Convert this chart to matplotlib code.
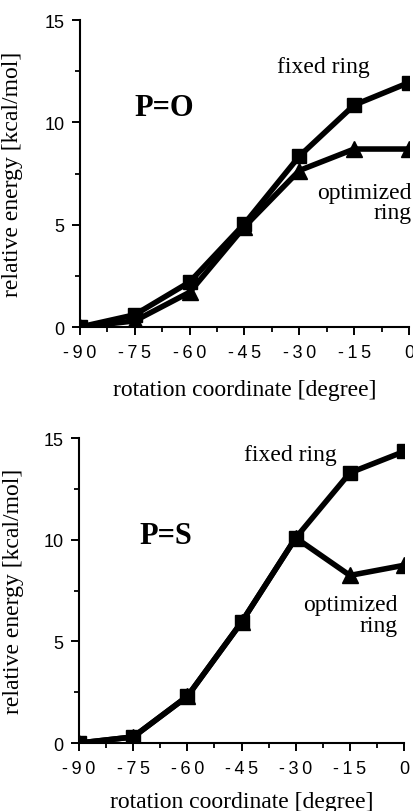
import matplotlib
matplotlib.use("Agg")
import matplotlib.pyplot as plt
from matplotlib.ticker import MultipleLocator, FixedLocator, FixedFormatter

# Data
angles = [-90, -75, -60, -45, -30, -15, 0]
po_fixed = [0.0, 0.6, 2.2, 5.05, 8.35, 10.85, 11.95]
po_opt = [0.0, 0.3, 1.7, 4.9, 7.65, 8.7, 8.7]
ps_fixed = [0.0, 0.3, 2.3, 5.95, 10.1, 13.3, 14.35]
ps_opt = [0.0, 0.3, 2.3, 5.95, 10.1, 8.25, 8.75]
xticks = [-90, -75, -60, -45, -30, -15, 0]
xticklabels = ["-90", "-75", "-60", "-45", "-30", "-15", "0"]
yticks = [0, 5, 10, 15]

serif = ["Liberation Serif", "DejaVu Serif"]
sans = ["Liberation Sans", "DejaVu Sans"]

fig = plt.figure(figsize=(4.14, 8.12), dpi=100)
ax1 = fig.add_axes([0.193, 0.596, 0.795, 0.378])
ax2 = fig.add_axes([0.191, 0.0837, 0.785, 0.3753])


def spaced(s):
    return "\u2009".join(s)


def style(ax, xlab_y, ylab_x):
    ax.set_xlim(-90, 0)
    ax.set_ylim(0, 15)
    for s in ("top", "right"):
        ax.spines[s].set_visible(False)
    for s in ("left", "bottom"):
        ax.spines[s].set_linewidth(1.5)
    ax.xaxis.set_major_locator(FixedLocator(xticks))
    ax.xaxis.set_major_formatter(FixedFormatter([spaced(t) for t in xticklabels]))
    ax.xaxis.set_minor_locator(MultipleLocator(7.5))
    ax.yaxis.set_major_locator(FixedLocator(yticks))
    ax.yaxis.set_minor_locator(MultipleLocator(2.5))
    ax.tick_params(which="major", length=6, width=1.4, direction="out", labelsize=13)
    ax.tick_params(axis="x", which="major", pad=6.5)
    ax.tick_params(axis="y", which="major", pad=5)
    ax.tick_params(which="minor", length=3.5, width=1.3, direction="out")
    for lab in ax.get_xticklabels() + ax.get_yticklabels():
        lab.set_fontfamily(sans)
    ax.set_ylabel("relative energy [kcal/mol]", fontfamily=serif, fontsize=17)
    ax.yaxis.set_label_coords(ylab_x, 0.5)
    ax.set_xlabel("rotation coordinate [degree]", fontfamily=serif, fontsize=17)
    ax.xaxis.set_label_coords(0.5, xlab_y)


for ax, fixed, opt, xy, yx in ((ax1, po_fixed, po_opt, -0.169, -0.172),
                               (ax2, ps_fixed, ps_opt, -0.158, -0.17)):
    ax.plot(angles, opt, color="black", lw=4, marker="^", markersize=12, zorder=3)
    ax.plot(angles, fixed, color="black", lw=4, marker="s", markersize=10, zorder=4)
    style(ax, xy, yx)

ax1.text(-67, 10.75, "P=O", fontfamily=serif, fontsize=22, fontweight="bold", ha="center", va="center")
ax1.text(-23.5, 12.75, "fixed ring", fontfamily=serif, fontsize=17, ha="center", va="center")
ax1.text(0.8, 6.1, "optimized\nring", fontfamily=serif, fontsize=17, ha="right", va="center", linespacing=0.95)

ax2.text(-65.9, 10.2, "P=S", fontfamily=serif, fontsize=22, fontweight="bold", ha="center", va="center")
ax2.text(-31.6, 14.2, "fixed ring", fontfamily=serif, fontsize=17, ha="center", va="center")
ax2.text(-1.9, 6.3, "optimized\nring", fontfamily=serif, fontsize=17, ha="right", va="center", linespacing=0.95)

fig.savefig("out.png", dpi=100)
